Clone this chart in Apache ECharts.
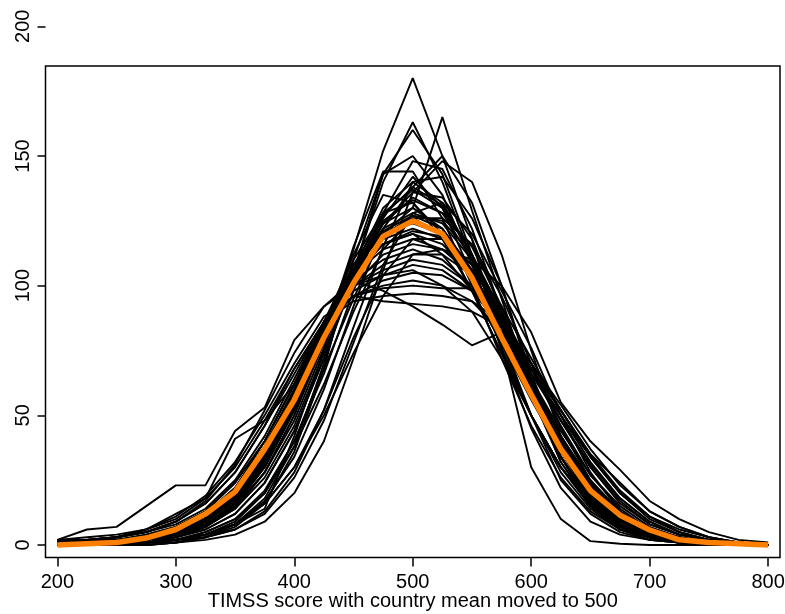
<!DOCTYPE html>
<html>
<head>
<meta charset="utf-8">
<script src="https://cdn.jsdelivr.net/npm/echarts@6/dist/echarts.min.js"></script>
<style>
  html, body { margin: 0; padding: 0; background: #fff; }
  #main { width: 785px; height: 614px; }
</style>
</head>
<body>
<div id="main"></div>
<script>
// score bins (x), one count per bin for every country
var scores = [200, 225, 250, 275, 300, 325, 350, 375, 400, 425, 450, 475, 500,
  525, 550, 575, 600, 625, 650, 675, 700, 725, 750, 775, 800];
var xTicks = [200, 300, 400, 500, 600, 700, 800];
var yTicks = [0, 50, 100, 150, 200];

var countries = [
  [0,0,0,0,1,3,8,14,42,75,114,152,180,150,118,77,30,10,1.5,0.5,0,0,0,0,0],
  [0,0,0,1,2,4,9,20,40,68,95,120,130,165,129,95,60,32,16,7,3,1,0,0,0],
  [0,0,0,1,2,4,8,18,38,70,105,140,163,140,110,75,45,22,9,4,2,1,0,0,0],
  [0,0,0,0,1,3,7,16,36,68,110,143,160,143,112,80,50,25,12,5,2,1,0,0,0],
  [0,0,1,1,3,6,12,24,44,72,105,143,150,135,108,78,50,28,14,6,3,1,1,0,0],
  [0,0,0,1,2,5,10,21,40,66,98,128,148,145,122,90,58,32,15,7,3,1,0,0,0],
  [1,1,1,2,3,7,14,28,50,80,115,144,144,126,100,72,46,26,13,6,3,1,1,0,0],
  [0,0,0,1,2,4,8,17,34,60,92,122,138,150,132,100,66,38,18,8,3,1,0,0,0],
  [0,0,1,2,4,8,15,28,48,76,106,130,140,132,112,86,58,34,18,9,4,2,1,0,0],
  [0,1,1,2,4,8,14,26,46,74,104,128,137,130,112,88,60,36,20,10,4,2,1,0,0],
  [0,0,1,2,4,9,17,32,55,84,112,135,132,118,98,74,50,30,15,7,3,1,1,0,0],
  [0,0,0,1,3,6,12,24,44,72,102,125,133,128,115,92,64,38,20,9,4,2,1,0,0],
  [1,1,2,3,5,10,18,32,54,80,106,124,130,122,106,84,60,38,22,11,5,2,1,0,0],
  [0,0,1,2,4,8,16,30,52,80,106,122,128,124,110,88,62,38,20,10,4,2,1,0,0],
  [0,0,0,1,2,5,10,20,38,62,90,114,126,126,116,96,70,45,25,12,5,2,1,0,0],
  [1,1,1,2,4,9,17,31,54,82,108,120,124,120,105,84,60,40,23,12,5,2,1,0,0],
  [0,0,1,2,5,10,18,34,56,84,104,118,122,118,104,86,64,42,24,12,5,2,1,0,0],
  [0,1,1,3,5,10,20,36,58,86,106,116,120,116,104,86,64,42,24,12,6,3,1,0,0],
  [1,1,2,3,6,12,22,38,60,84,104,114,118,114,104,86,64,42,25,13,6,3,1,1,0],
  [0,0,1,2,4,9,18,34,56,82,100,112,116,114,106,90,68,46,27,14,6,3,1,0,0],
  [1,2,2,4,7,13,24,40,62,86,102,110,114,110,100,84,64,44,27,15,7,3,1,1,0],
  [0,1,1,3,6,12,22,38,60,84,100,108,112,112,104,88,68,48,30,16,8,4,2,1,0],
  [1,1,2,3,6,12,22,40,62,86,100,106,110,108,100,86,68,48,30,17,8,4,2,1,0],
  [1,2,3,5,8,14,25,42,64,86,98,104,108,106,98,84,66,48,31,18,9,4,2,1,0],
  [1,1,2,4,7,13,24,40,62,84,96,102,105,104,98,86,70,52,34,20,10,5,2,1,0],
  [2,2,3,5,9,16,28,46,66,86,96,100,102,100,94,82,66,50,34,20,11,5,2,1,0],
  [1,2,3,5,9,16,28,46,68,86,96,99,100,99,99,86,68,50,32,18,9,4,2,1,0],
  [2,2,3,6,10,18,30,48,68,86,94,96,97,96,94,86,70,52,34,20,11,6,3,1,0],
  [2,3,4,6,11,19,32,50,70,88,96,94,93,92,90,84,70,54,37,23,13,7,3,1,0],
  [1,2,3,5,9,17,31,52,74,92,102,98,92,85,77,82,68,52,35,21,11,5,2,1,0],
  [2,6,7,15,23,23,44,53,79,92,100,104,106,100,90,72,50,30,16,8,4,2,1,0,0],
  [1,2,3,6,12,18,41,48,62,84,104,116,120,112,98,78,56,36,20,10,5,2,1,0,0],
  [0,0,1,1,2,4,8,16,30,50,74,96,112,114,110,100,82,55,40,29,17,10,5,2,1],
  [0,0,0,1,2,4,8,16,30,52,80,104,118,118,108,92,72,52,35,24,13,7,3,1,0],
  [0,0,0,1,2,3,6,13,28,52,84,115,140,142,126,100,64,34,15,6,2,1,0,0,0],
  [0,0,0,1,1,3,6,12,26,48,78,108,128,132,120,98,76,50,28,13,5,2,1,0,0],
  [0,0,0,0,1,2,4,9,20,40,72,106,136,148,140,112,75,42,20,8,3,1,0,0,0],
  [0,0,1,2,4,8,16,30,52,78,104,124,134,128,110,86,60,36,18,8,3,1,0,0,0],
  [0,0,1,2,5,10,19,35,58,84,106,120,126,120,104,82,58,36,19,9,4,2,1,0,0],
  [1,1,2,3,5,10,18,33,55,82,106,126,142,130,104,76,50,30,15,7,3,1,0,0,0],
  [0,0,1,2,3,7,14,28,50,78,104,124,136,134,118,90,60,34,17,8,3,1,0,0,0],
  [0,1,1,2,4,9,18,34,58,86,110,128,132,120,98,74,50,30,16,8,4,2,1,0,0],
  [0,0,1,2,4,7,15,30,52,80,108,127,138,131,112,86,58,34,17,8,3,1,0,0,0],
  [0,1,1,2,5,10,20,37,60,86,108,121,127,122,106,84,60,38,21,10,4,2,1,0,0],
  [1,1,2,3,6,11,21,38,59,83,103,116,121,119,108,88,64,41,23,11,5,2,1,0,0],
  [0,0,1,2,4,8,16,31,53,79,103,119,127,125,112,90,63,39,21,10,4,2,1,0,0]
];

var meanCounts = [0,0.5,1,2.7,6,12,20.5,37,56,80,101,119,125,120,103,80,58,37,21,11.5,5.8,2,1,0.5,0];

var font = 'Liberation Sans, Arial, sans-serif';

function pairs(vals) {
  return scores.map(function (s, i) { return [s, vals[i]]; });
}

var series = countries.map(function (c) {
  return {
    type: 'line',
    xAxisIndex: 1,
    yAxisIndex: 1,
    data: pairs(c),
    symbol: 'none',
    silent: true,
    lineStyle: { color: '#000', width: 1.9 },
    z: 2
  };
});
series.push({
  type: 'line',
  xAxisIndex: 1,
  yAxisIndex: 1,
  data: pairs(meanCounts),
  symbol: 'none',
  silent: true,
  lineStyle: { color: '#ff7f00', width: 5.5 },
  z: 5
});

var chart = echarts.init(document.getElementById('main'), null, { renderer: 'canvas' });

chart.setOption({
  animation: false,
  backgroundColor: '#fff',
  grid: [
    // the plot box
    { left: 45.5, right: 5, top: 66, bottom: 56.5, show: true, outerBoundsMode: 'none',
      borderColor: '#000', borderWidth: 1.5, backgroundColor: 'transparent' },
    // taller area so the 200 tick can sit above the box
    { left: 45.5, right: 5, top: 26.3, bottom: 56.5, outerBoundsMode: 'none' }
  ],
  xAxis: [
    {
      type: 'value', gridIndex: 0, min: 190, max: 810,
      axisLine: { show: false },
      splitLine: { show: false },
      axisTick: { show: true, length: 9, customValues: xTicks,
        lineStyle: { color: '#000', width: 1.5 } },
      axisLabel: { customValues: xTicks, margin: 15, color: '#000',
        fontSize: 20, fontFamily: font },
      name: 'TIMSS score with country mean moved to 500',
      nameLocation: 'middle',
      nameGap: 34,
      nameMoveOverlap: false,
      nameTextStyle: { color: '#000', fontSize: 20, fontFamily: font }
    },
    { type: 'value', gridIndex: 1, min: 190, max: 810, show: false }
  ],
  yAxis: [
    { type: 'value', gridIndex: 0, min: 0, max: 200, show: false },
    {
      type: 'value', gridIndex: 1, min: -4.8, max: 200,
      axisLine: { show: false },
      splitLine: { show: false },
      axisTick: { show: true, length: 8, customValues: yTicks,
        lineStyle: { color: '#000', width: 1.5 } },
      axisLabel: { customValues: yTicks, rotate: 90, margin: 12, color: '#000',
        fontSize: 20, fontFamily: font }
    }
  ],
  series: series
});
</script>
</body>
</html>
